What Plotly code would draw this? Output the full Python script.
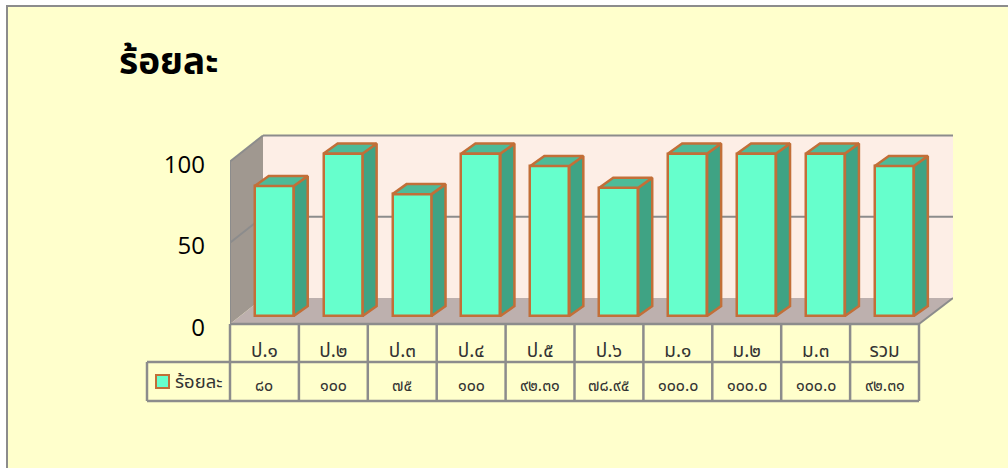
# pip install plotly
import plotly.graph_objects as go

# data
CATEGORIES = ["ป.๑", "ป.๒", "ป.๓", "ป.๔", "ป.๕", "ป.๖", "ม.๑", "ม.๒", "ม.๓", "รวม"]
VALUES = [80, 100, 75, 100, 92.31, 78.95, 100, 100, 100, 92.31]
VALUE_LABELS = ["๘๐", "๑๐๐", "๗๕", "๑๐๐", "๙๒.๓๑", "๗๘.๙๕", "๑๐๐.๐", "๑๐๐.๐", "๑๐๐.๐", "๙๒.๓๑"]
SERIES_NAME = "ร้อยละ"
Y_TICKS = [0, 50, 100]

W, H = 1008, 468
# plot area in pixels, ZERO_Y is where value 0 sits on the front plane
LEFT, RIGHT, TOP, BOTTOM = 230, 953, 130, 334
ZERO_Y = 324
CAT_W = 68.9            # px per category
PX_PER_UNIT = 1.625     # px per percent

# fake 3d depth, in axis units
WALL_DX = 33 / CAT_W
WALL_DY = 26 / PX_PER_UNIT
BAR_SHIFT = 0.142
BAR_W = 0.566
BAR_BASE = 8 / PX_PER_UNIT
BAR_DX = 14 / CAT_W
BAR_DY = 10 / PX_PER_UNIT
LABEL_DROP = 2          # y tick labels sit a little under their gridlines

GRID = "#8c8c8c"
EDGE = "#c26f38"
FONT = "Open Sans"
THAI_FONT = "Noto Sans Thai, Noto Sans, DejaVu Sans, sans-serif"

# paper coordinates are relative to the plot area
def px(x):
    return (x - LEFT) / (RIGHT - LEFT)

def py(y):
    return (BOTTOM - y) / (BOTTOM - TOP)

x_pos = [i + 0.5 + BAR_SHIFT for i in range(len(VALUES))]
x_max = (RIGHT - LEFT) / CAT_W
y_max = (ZERO_Y - TOP) / PX_PER_UNIT
y_min = -(BOTTOM - ZERO_Y) / PX_PER_UNIT

fig = go.Figure()

# front faces
fig.add_trace(go.Bar(
    x=x_pos, y=VALUES, base=[BAR_BASE] * len(VALUES), width=BAR_W,
    marker=dict(color="#66ffcc", line=dict(color=EDGE, width=2.5)),
    name=SERIES_NAME, showlegend=False,
))

# side and top faces
side_x, side_y, top_x, top_y = [], [], [], []
for x, v in zip(x_pos, VALUES):
    x1 = x + BAR_W / 2
    x0 = x - BAR_W / 2
    y1 = v + BAR_BASE
    side_x += [x1, x1 + BAR_DX, x1 + BAR_DX, x1, x1, None]
    side_y += [BAR_BASE, BAR_BASE + BAR_DY, y1 + BAR_DY, y1, BAR_BASE, None]
    top_x += [x0, x0 + BAR_DX, x1 + BAR_DX, x1, x0, None]
    top_y += [y1, y1 + BAR_DY, y1 + BAR_DY, y1, y1, None]

for fx, fy, col in [(side_x, side_y, "#3fa384"), (top_x, top_y, "#4dbb98")]:
    fig.add_trace(go.Scatter(
        x=fx, y=fy, mode="lines", fill="toself", fillcolor=col,
        line=dict(color=EDGE, width=2.5), showlegend=False, hoverinfo="skip",
    ))

shapes = []

# yellow panel, runs off the right and bottom of the picture
shapes.append(dict(type="rect", xref="paper", yref="paper", layer="below",
                   x0=px(7), x1=px(1012), y0=py(6), y1=py(472),
                   fillcolor="#ffffcc", line=dict(color="#8c8c8c", width=2)))

def poly(points, fill):
    path = "M " + " L ".join(f"{a},{b}" for a, b in points) + " Z"
    shapes.append(dict(type="path", path=path, xref="x", yref="y", layer="below",
                       fillcolor=fill, line=dict(width=0)))

def seg(x0, y0, x1, y1, width=2):
    shapes.append(dict(type="line", xref="x", yref="y", layer="below",
                       x0=x0, y0=y0, x1=x1, y1=y1, line=dict(color=GRID, width=width)))

n = len(VALUES)
poly([(WALL_DX, WALL_DY), (x_max, WALL_DY), (x_max, 100 + WALL_DY), (WALL_DX, 100 + WALL_DY)], "#fdeee6")
poly([(0, 0), (WALL_DX, WALL_DY), (WALL_DX, 100 + WALL_DY), (0, 100)], "#a09890")
poly([(0, 0), (n, 0), (x_max, WALL_DY), (WALL_DX, WALL_DY)], "#bdb0ae")
seg(WALL_DX, 100 + WALL_DY, x_max, 100 + WALL_DY)
seg(0, 100, WALL_DX, 100 + WALL_DY)
seg(0, 50, WALL_DX, 50 + WALL_DY)
seg(WALL_DX, 50 + WALL_DY, x_max, 50 + WALL_DY)
seg(n, 0, x_max, WALL_DY)
seg(0, 0, 0, 100)

# table under the chart
ROW1, ROW2, ROW3 = 324, 362, 401
TABLE_LEFT = 147

def tline(x0, y0, x1, y1):
    shapes.append(dict(type="line", xref="paper", yref="paper", x0=px(x0), y0=py(y0),
                       x1=px(x1), y1=py(y1), line=dict(color=GRID, width=2.5)))

for i in range(n + 1):
    tline(LEFT + i * CAT_W, ROW1, LEFT + i * CAT_W, ROW3)
tline(LEFT, ROW1, LEFT + n * CAT_W, ROW1)
tline(TABLE_LEFT, ROW2, LEFT + n * CAT_W, ROW2)
tline(TABLE_LEFT, ROW3, LEFT + n * CAT_W, ROW3)
tline(TABLE_LEFT, ROW2, TABLE_LEFT, ROW3)

# legend key
shapes.append(dict(type="rect", xref="paper", yref="paper", x0=px(156), x1=px(169), y0=py(375), y1=py(388),
                   fillcolor="#66ffcc", line=dict(color=EDGE, width=2)))

annotations = [
    dict(x=px(117), y=py(63), xref="paper", yref="paper", xanchor="left", yanchor="middle",
         text=f"<b>{SERIES_NAME}</b>", showarrow=False, font=dict(family=THAI_FONT, size=37, color="black")),
    dict(x=px(173), y=py(382), xref="paper", yref="paper", xanchor="left", yanchor="middle",
         text=SERIES_NAME, showarrow=False, font=dict(family=THAI_FONT, size=18.5, color="#333333")),
]
for i, lab in enumerate(VALUE_LABELS):
    annotations.append(dict(x=px(LEFT + (i + 0.5) * CAT_W), y=py(386), xref="paper", yref="paper",
                            xanchor="center", yanchor="middle", text=lab, showarrow=False,
                            font=dict(family=THAI_FONT, size=16, color="#333333")))

fig.update_layout(
    width=W, height=H, autosize=False,
    margin=dict(l=LEFT, r=W - RIGHT, t=TOP, b=H - BOTTOM, pad=0),
    paper_bgcolor="white", plot_bgcolor="rgba(0,0,0,0)",
    bargap=0, showlegend=False, shapes=shapes, annotations=annotations,
    xaxis=dict(range=[0, x_max], tickmode="array", tickvals=[i + 0.5 for i in range(n)],
               ticktext=CATEGORIES, showgrid=False, zeroline=False, showline=False,
               ticks="", ticklabelstandoff=3, tickangle=0,
               tickfont=dict(family=THAI_FONT, size=19, color="#333333")),
    yaxis=dict(range=[y_min, y_max], tickmode="array", tickvals=[t - LABEL_DROP for t in Y_TICKS],
               ticktext=[str(t) for t in Y_TICKS], showgrid=False,
               zeroline=False, showline=False, ticks="", ticklabelstandoff=24,
               tickfont=dict(family=FONT, size=24, color="black")),
)

# drop the page margin so the figure fills the window
fig.write_html("out.html", post_script="document.body.style.margin='0';",
               config=dict(displayModeBar=False))
